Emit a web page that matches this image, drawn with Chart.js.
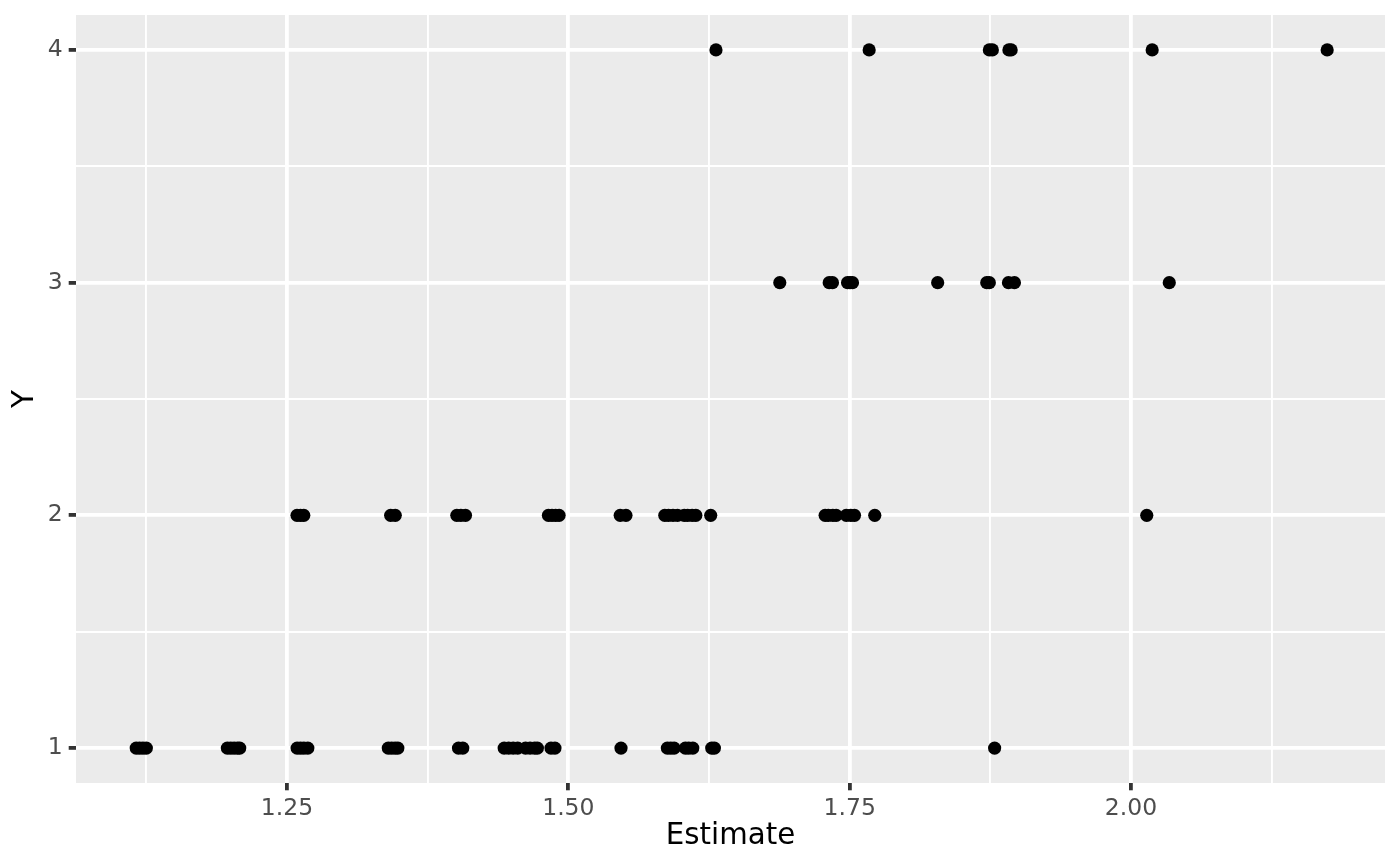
<!DOCTYPE html>
<html>
<head>
<meta charset="utf-8">
<script src="https://cdn.jsdelivr.net/npm/chart.js@4.4.1/dist/chart.umd.min.js"></script>
<style>
html,body{margin:0;padding:0;background:#fff;}
canvas{display:block;}
</style>
</head>
<body>
<canvas id="c" width="1400" height="866" style="width:1400px;height:866px"></canvas>
<script>
// Estimates for each Y level
const row1X = [1.116,1.119,1.122,1.125, 1.197,1.200,1.203,1.206,1.208, 1.259,1.262,1.265,1.2685,
  1.340,1.343,1.346,1.3485, 1.4024,1.4062, 1.443,1.447,1.451,1.455,1.462,1.466,1.470,1.4725,
  1.4846,1.4881, 1.5468, 1.588,1.591,1.594,1.604,1.607,1.6106, 1.6274,1.6298, 1.8788];
const row2X = [1.2589,1.2620,1.2649, 1.3421,1.3462, 1.4009,1.4045,1.4086, 1.4823,1.4855,1.4887,1.4918,
  1.5461,1.5512, 1.5857,1.589,1.593,1.597,1.603,1.606,1.610,1.6133, 1.6265,
  1.7282,1.731,1.735,1.738,1.747,1.751,1.7543, 1.7723, 2.0140];
const row3X = [1.6879, 1.7318,1.7347, 1.7481,1.7503,1.7525, 1.8282, 1.8718,1.8741, 1.8911,1.8964, 2.034];
const row4X = [1.6312, 1.7673, 1.8741,1.8768, 1.8915,1.8935, 2.0188, 2.1743];
const yLevels = [1, 2, 3, 4];

const xTicks = [1.125, 1.25, 1.375, 1.5, 1.625, 1.75, 1.875, 2.0, 2.125];
const xMajor = [1.25, 1.5, 1.75, 2.0];
const yTicks = [1, 1.5, 2, 2.5, 3, 3.5, 4];
const yMajor = [1, 2, 3, 4];

const rows = [row1X, row2X, row3X, row4X];
const points = [];
rows.forEach((r, i) => r.forEach(x => points.push({x: x, y: yLevels[i]})));

const isMaj = (arr, v) => arr.some(m => Math.abs(m - v) < 1e-9);

const panelBg = {
  id: 'panelBg',
  beforeDraw(chart) {
    const {ctx, chartArea: a} = chart;
    ctx.save();
    ctx.fillStyle = '#ffffff';
    ctx.fillRect(0, 0, chart.width, chart.height);
    ctx.fillStyle = '#EBEBEB';
    ctx.fillRect(a.left, a.top, a.right - a.left, a.bottom - a.top);
    ctx.restore();
  }
};

new Chart(document.getElementById('c'), {
  type: 'scatter',
  data: {
    datasets: [{
      data: points,
      backgroundColor: '#000000',
      borderWidth: 0,
      pointRadius: 6.6,
      pointHoverRadius: 6.6
    }]
  },
  options: {
    responsive: false,
    animation: false,
    devicePixelRatio: 1,
    events: [],
    layout: {padding: {left: 0, right: 15, top: 15, bottom: 0}},
    plugins: {legend: {display: false}, tooltip: {enabled: false}},
    scales: {
      x: {
        type: 'linear',
        min: 1.0625,
        max: 2.2257,
        afterBuildTicks: s => { s.ticks = xTicks.map(v => ({value: v})); },
        afterFit: s => { s.height = 83; s.paddingLeft = 0; s.paddingRight = 0; },
        border: {display: false},
        grid: {
          color: '#FFFFFF',
          lineWidth: c => (c.tick && isMaj(xMajor, c.tick.value)) ? 3.8 : 1.9,
          drawTicks: true,
          tickLength: 7.3,
          tickWidth: 3.8,
          tickColor: c => (c.tick && isMaj(xMajor, c.tick.value)) ? '#333333' : 'rgba(0,0,0,0)'
        },
        ticks: {
          autoSkip: false,
          maxRotation: 0,
          padding: 4,
          color: '#4D4D4D',
          font: {family: 'DejaVu Sans', size: 23.5},
          callback: v => isMaj(xMajor, v) ? v.toFixed(2) : ''
        },
        title: {
          display: true,
          text: 'Estimate',
          color: '#000000',
          font: {family: 'DejaVu Sans', size: 29.3},
          padding: {top: 0, bottom: 12}
        }
      },
      y: {
        type: 'linear',
        min: 0.85,
        max: 4.15,
        afterBuildTicks: s => { s.ticks = yTicks.map(v => ({value: v})); },
        afterFit: s => { s.width = 76; s.paddingTop = 0; s.paddingBottom = 0; },
        border: {display: false},
        grid: {
          color: '#FFFFFF',
          lineWidth: c => (c.tick && isMaj(yMajor, c.tick.value)) ? 3.8 : 1.9,
          drawTicks: true,
          tickLength: 7.3,
          tickWidth: 3.8,
          tickColor: c => (c.tick && isMaj(yMajor, c.tick.value)) ? '#333333' : 'rgba(0,0,0,0)'
        },
        ticks: {
          autoSkip: false,
          padding: 6,
          color: '#4D4D4D',
          font: {family: 'DejaVu Sans', size: 23.5},
          callback: v => isMaj(yMajor, v) ? String(v) : ''
        },
        title: {
          display: true,
          text: 'Y',
          color: '#000000',
          font: {family: 'DejaVu Sans', size: 29.3},
          padding: {top: 8, bottom: 0}
        }
      }
    }
  },
  plugins: [panelBg]
});
</script>
</body>
</html>
